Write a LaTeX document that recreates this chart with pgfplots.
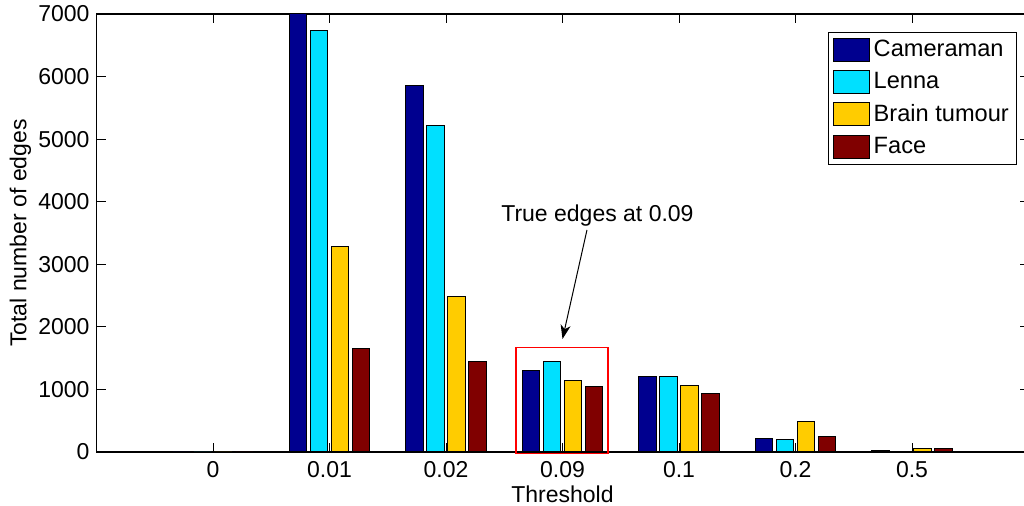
\documentclass[border=0pt]{standalone}
\usepackage{pgfplots}
\pgfplotsset{compat=1.18}
\usetikzlibrary{arrows.meta}
\usepackage{fontspec}
\setmainfont{Liberation Sans}
\definecolor{cam}{rgb}{0,0,0.56}
\definecolor{len}{rgb}{0,0.88,1}
\definecolor{bra}{rgb}{1,0.8,0}
\definecolor{fac}{rgb}{0.5,0,0}
\pgfplotstableread{
x cam len bra fac
0 0 0 0 0
1 7000 6740 3280 1650
2 5850 5220 2490 1450
3 1310 1440 1140 1040
4 1200 1200 1070 930
5 210 200 480 250
6 30 10 60 60
}\edges
\begin{document}
\begin{tikzpicture}
\begin{axis}[
 scale only axis, width=466pt, height=219pt,
 xmin=-1, xmax=7, ymin=0, ymax=7000,
 clip=false,
 xtick={0,...,6}, xticklabels={0,0.01,0.02,0.09,0.1,0.2,0.5},
 ytick={0,1000,...,7000},
 scaled y ticks=false,
 yticklabel style={/pgf/number format/1000 sep={}},
 /pgf/number format/assume math mode=true,
 tick align=inside, major tick length=4.5pt,
 tick style={black, line width=0.5pt},
 axis line style={line width=0.7pt},
 font=\fontsize{11.5}{13}\selectfont,
 ticklabel style={font=\fontsize{11.5}{13}\selectfont},
 xticklabel style={yshift=-1pt},
 xlabel=Threshold, ylabel=Total number of edges,
 xlabel style={at={(axis description cs:0.5,-0.0959)}, anchor=center},
 ylabel style={at={(axis description cs:-0.0815,0.5)}, anchor=center},
 legend cell align=left,
 legend image code/.code={\draw[#1] (0pt,-5.75pt) rectangle (18pt,5.75pt);},
 legend style={at={(rel axis cs:0.988,0.959)}, anchor=north east, draw=black, fill=white,
   line width=0.5pt, font=\fontsize{11.8}{13}\selectfont, inner sep=2pt, row sep=2.3pt,
   /tikz/every even column/.append style={column sep=1pt}},
]
\addplot[ybar, bar width=0.15, bar shift=-0.27, fill=cam, draw=black, line width=0.5pt] table[x=x,y=cam]{\edges};
\addplot[ybar, bar width=0.15, bar shift=-0.09, fill=len, draw=black, line width=0.5pt] table[x=x,y=len]{\edges};
\addplot[ybar, bar width=0.15, bar shift=0.09, fill=bra, draw=black, line width=0.5pt] table[x=x,y=bra]{\edges};
\addplot[ybar, bar width=0.15, bar shift=0.27, fill=fac, draw=black, line width=0.5pt] table[x=x,y=fac]{\edges};
\legend{Cameraman,Lenna,Brain tumour,Face}
\draw[red, line width=0.7pt] (axis cs:2.60,-20) rectangle (axis cs:3.39,1667);
\draw[-{Stealth[length=7pt,width=5pt,inset=2pt]}, line width=0.5pt] (axis cs:3.21,3548) -- (axis cs:3.0,1806);
\node[font=\fontsize{11.5}{13}\selectfont] at (axis cs:3.30,3772) {True edges at 0.09};
\coordinate (ll) at (rel axis cs:0,0);
\coordinate (ur) at (rel axis cs:1,1);
\end{axis}
\pgfresetboundingbox
\useasboundingbox ([xshift=-48.25pt,yshift=-27pt]ll) rectangle ([xshift=-2.25pt,yshift=7pt]ur);
\end{tikzpicture}
\end{document}
